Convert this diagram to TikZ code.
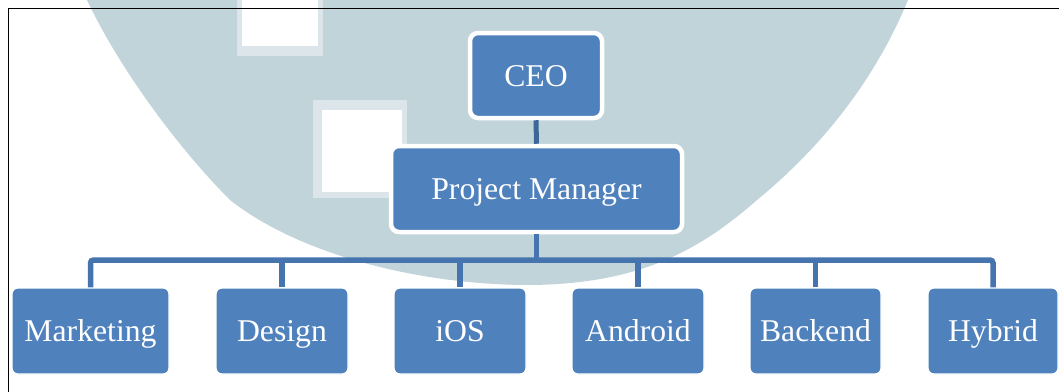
\documentclass[tikz,border=0pt]{standalone}
\usepackage{fontspec}
\setmainfont{Liberation Serif}
\begin{document}
\begin{tikzpicture}[x=1pt,y=-1pt,
  box/.style={rectangle, rounded corners=6pt, fill=nodeblue, draw=white,
    text=white, inner sep=0pt, text height=21pt, text depth=0pt,
    font=\fontsize{31.7}{38}\selectfont},
  topbox/.style={box, line width=4.5pt, rounded corners=8pt},
  lowbox/.style={box, line width=1.2pt, minimum height=86pt},
  link/.style={draw=linkblue, line width=5.5pt},
  toplink/.style={draw=linkdark, line width=5pt}]
\definecolor{nodeblue}{HTML}{4F81BD}
\definecolor{linkblue}{HTML}{4674AE}
\definecolor{linkdark}{HTML}{3E6799}
\definecolor{wmgrey}{HTML}{C1D4DA}
\definecolor{wmedge}{HTML}{DCE6EA}
\useasboundingbox (0,0) rectangle (1059,391);
\clip (0,0) rectangle (1059,391);
\fill[white] (0,0) rectangle (1059,391);
% watermark
\fill[wmgrey] (80,-5) -- (87,0) .. controls (120,70) and (180,150) .. (230,200)
  .. controls (300,255) and (420,285) .. (530,285)
  .. controls (640,284) and (700,250) .. (757,200)
  .. controls (830,140) and (880,70) .. (910,-5) -- cycle;
\fill[wmedge] (237,-5) rectangle (323,56);
\fill[white] (242,-5) rectangle (318,46);
\fill[wmedge] (313,100) rectangle (407,198);
\fill[white] (322,110) rectangle (402,192);
% frame
\draw[black, line width=1.8pt] (8.5,8.5) rectangle (1080,410);
% nodes
\node[topbox, minimum width=132pt, minimum height=85pt] (ceo) at (536,75.5) {CEO};
\node[topbox, minimum width=291pt, minimum height=86pt] (pm) at (536.5,189) {Project Manager};
\node[lowbox, minimum width=157pt] (mk) at (90.5,331) {Marketing};
\node[lowbox, minimum width=132pt] (ds) at (282,331) {Design};
\node[lowbox, minimum width=132pt] (ios) at (460,331) {iOS};
\node[lowbox, minimum width=132pt] (and) at (638,331) {Android};
\node[lowbox, minimum width=131pt] (be) at (815.5,331) {Backend};
\node[lowbox, minimum width=130pt] (hy) at (993,331) {Hybrid};
\coordinate (bus) at (0,260);
% connectors
\draw[toplink] (ceo.south) -- (pm.north);
\draw[link] (pm.south) -- (pm.south |- bus);
\draw[link, rounded corners=3pt] (mk.north) -- (mk.north |- bus) -- (hy.north |- bus) -- (hy.north);
\foreach \n in {ds,ios,and,be} \draw[link] (\n.north) -- (\n.north |- bus);
\end{tikzpicture}
\end{document}
